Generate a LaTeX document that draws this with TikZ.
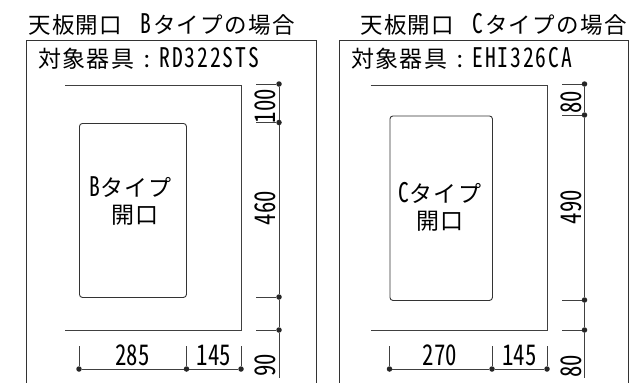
\documentclass[tikz,border=0pt]{standalone}
\usepackage{fontspec}
\newfontfamily\jp[CharacterWidth=Half,LetterSpace=6]{Noto Sans CJK JP}
\newfontfamily\jl[CharacterWidth=Half,LetterSpace=7,FakeStretch=0.8]{Noto Sans CJK JP}
\newfontfamily\jd[CharacterWidth=Half,FakeStretch=0.8]{Noto Sans CJK JP}
\newcommand{\dotnode}[2]{\node[dimdot] (#1) at #2 {};}
\newcommand{\lt}[2]{{\fontsize{#1}{24}\selectfont\jl #2}}
\tikzset{
  x=1pt,y=-1pt,
  dimdot/.style={circle,fill=black!85,inner sep=0pt,minimum size=5.5pt},
  framebox/.style={draw=black!80,line width=1pt},
  edgeline/.style={draw=black!75,line width=0.9pt},
  openbox/.style={draw=black!80,line width=0.9pt,rounded corners=3pt},
  dimline/.style={draw=black!75,line width=0.9pt},
  titletext/.style={font=\fontsize{22.5}{24}\selectfont\jp,inner sep=0pt,anchor=base west},
  subtext/.style={font=\fontsize{23}{24}\selectfont\jp,inner sep=0pt,anchor=base west},
  labeltext/.style={font=\fontsize{23}{24}\selectfont\jp,inner sep=0pt,align=center},
  dimtext/.style={font=\fontsize{28.5}{30}\selectfont\jd,inner sep=0pt},
}
\begin{document}
\begin{tikzpicture}
\useasboundingbox (0,0) rectangle (635,383);
\clip (0,0) rectangle (635,383);
% ---------- left panel
\node[titletext] (t1) at (28,33) {天板開口\hspace{18pt}\lt{27}{B}\hspace{2pt}タイプの場合};
\node[subtext] (s1) at (38,67) {対象器具\makebox[25pt]{:}\lt{27}{RD322STS}};
\coordinate (fa1) at (26.5,383); \coordinate (fb1) at (26.5,40);
\coordinate (fc1) at (316,40);   \coordinate (fd1) at (316,383);
\draw[framebox] (fa1) -- (fb1) -- (fc1) -- (fd1);
\coordinate (la1) at (65,85); \coordinate (lb1) at (241,85);
\coordinate (lc1) at (241,330); \coordinate (ld1) at (65,330);
\draw[edgeline] (la1) -- (lb1) -- (lc1) -- (ld1);
\node[minimum width=107pt,minimum height=174pt,inner sep=0pt,openbox,anchor=north west] (o1) at (79,123) {};
\node[labeltext] (ol1) at (130.5,201) {\lt{27}{B}タイプ\\[3pt]\hspace{9pt}開口};
\dotnode{v1a}{(279,84)}\dotnode{v1b}{(279,122.5)}\dotnode{v1c}{(279,297)}\dotnode{v1d}{(279,330)}
\coordinate (v1e) at (279,378);
\draw[dimline] (v1a) -- (v1b) -- (v1c) -- (v1d) -- (v1e);
\coordinate (t1a) at (256,84); \coordinate (t1b) at (256,122.5);
\coordinate (t1c) at (256,297); \coordinate (t1d) at (256,330);
\draw[dimline] (t1a)--(v1a) (t1b)--(v1b) (t1c)--(v1c) (t1d)--(v1d);
\node[dimtext,rotate=90] (d1a) at (265,106) {100};
\node[dimtext,rotate=90] (d1b) at (265,208) {460};
\node[dimtext,rotate=90] (d1c) at (265,365.5) {90};
\dotnode{h1a}{(79,369)}\dotnode{h1b}{(186.5,369)}\dotnode{h1c}{(241,369)}
\draw[dimline] (h1a) -- (h1b) -- (h1c);
\coordinate (u1a) at (79,346); \coordinate (u1b) at (186.5,346); \coordinate (u1c) at (241,346);
\draw[dimline] (u1a)--(h1a) (u1b)--(h1b) (u1c)--(h1c);
\node[dimtext] (d1d) at (132.5,355.5) {285};
\node[dimtext] (d1e) at (214,355.5) {145};
% ---------- right panel
\node[titletext] (t2) at (360,33) {天板開口\hspace{18pt}\lt{27}{C}\hspace{2pt}タイプの場合};
\node[subtext] (s2) at (351,67) {対象器具\makebox[25pt]{:}\lt{27}{EHI326CA}};
\coordinate (fa2) at (339.5,383); \coordinate (fb2) at (339.5,40);
\coordinate (fc2) at (628,40);    \coordinate (fd2) at (628,383);
\draw[framebox] (fa2) -- (fb2) -- (fc2) -- (fd2);
\coordinate (la2) at (370.5,85); \coordinate (lb2) at (547,85);
\coordinate (lc2) at (547,330); \coordinate (ld2) at (370.5,330);
\draw[edgeline] (la2) -- (lb2) -- (lc2) -- (ld2);
\node[minimum width=102.5pt,minimum height=184.5pt,inner sep=0pt,openbox,anchor=north west] (o2) at (389.5,115.5) {};
\node[labeltext] (ol2) at (440,207) {\lt{27}{C}タイプ\\[3pt]開口};
\dotnode{v2a}{(584.5,84)}\dotnode{v2b}{(584.5,115)}\dotnode{v2c}{(584.5,300)}\dotnode{v2d}{(584.5,330)}
\coordinate (v2e) at (584.5,378);
\draw[dimline] (v2a) -- (v2b) -- (v2c) -- (v2d) -- (v2e);
\coordinate (t2a) at (562,84); \coordinate (t2b) at (562,115);
\coordinate (t2c) at (562,300); \coordinate (t2d) at (562,330);
\draw[dimline] (t2a)--(v2a) (t2b)--(v2b) (t2c)--(v2c) (t2d)--(v2d);
\node[dimtext,rotate=90] (d2a) at (571,102) {80};
\node[dimtext,rotate=90] (d2b) at (571,207) {490};
\node[dimtext,rotate=90] (d2c) at (571,366) {80};
\dotnode{h2a}{(389.5,369)}\dotnode{h2b}{(492,369)}\dotnode{h2c}{(547,369)}
\draw[dimline] (h2a) -- (h2b) -- (h2c);
\coordinate (u2a) at (389.5,346); \coordinate (u2b) at (492,346); \coordinate (u2c) at (547,346);
\draw[dimline] (u2a)--(h2a) (u2b)--(h2b) (u2c)--(h2c);
\node[dimtext] (d2d) at (440,355.5) {270};
\node[dimtext] (d2e) at (519.5,355.5) {145};
\end{tikzpicture}
\end{document}
